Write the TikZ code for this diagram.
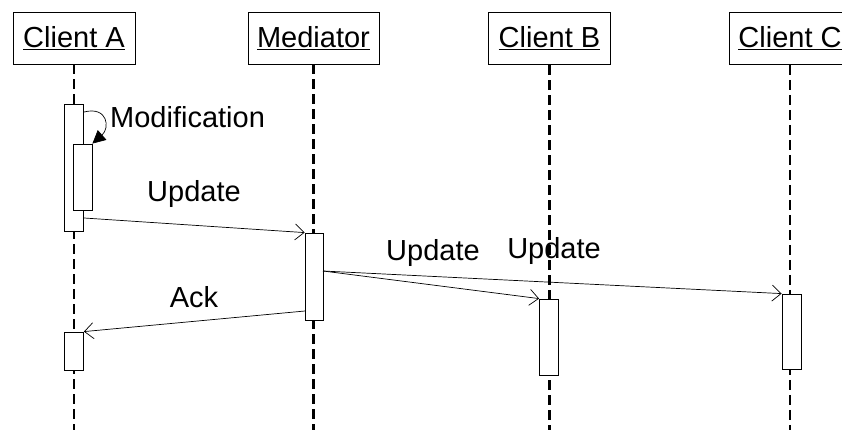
\documentclass[tikz,border=0pt]{standalone}
\usepackage{fontspec}
\setmainfont{Liberation Sans}
\usetikzlibrary{arrows.meta}

\begin{document}
\begin{tikzpicture}[x=1pt,y=1pt]
    \tikzstyle{every node}+=[inner sep=0pt, font=\fontsize{29}{34}\selectfont]
    \tikzstyle{object}=[draw=black, line width=0.8pt, minimum width=122pt, minimum height=52pt]
    \tikzstyle{lifeline}=[black, line width=2.2pt, dash pattern=on 10pt off 5pt]
    \tikzstyle{activation}=[draw=black, fill=white, line width=0.8pt, minimum width=19pt]
    \tikzstyle{message}=[black, line width=0.7pt, -{Straight Barb[length=9pt,width=16pt]}]
    \useasboundingbox (0,0) rectangle (842,-430);
    \clip (0,0) rectangle (842,-430);
    % objects
    \node [object] (clientA) at (74,-38) {\underline{Client A}};
    \node [object, minimum width=131pt] (mediator) at (313.5,-38) {\underline{Mediator}};
    \node [object, line width=1.6pt] (clientB) at (549.5,-38.5) {\underline{Client B}};
    \node [object] (clientC) at (790,-38.5) {\underline{Client C}};
    % lifelines
    \coordinate (endA) at (74,-430);
    \coordinate (endM) at (313.5,-430);
    \coordinate (endB) at (549.5,-430);
    \coordinate (endC) at (790,-430);
    \draw [lifeline] (clientA) -- (endA);
    \draw [lifeline] (mediator) -- (endM);
    \draw [lifeline, line width=3pt] (clientB) -- (endB);
    \draw [lifeline] (clientC) -- (endC);
    % activations
    \node [activation, minimum height=127pt] (actA) at (74,-167.5) {};
    \node [activation, minimum height=66pt] (actAmod) at (82.5,-177) {};
    \node [activation, minimum height=38pt] (actAack) at (74,-351) {};
    \node [activation, minimum width=18pt, minimum height=87pt] (actM) at (314,-276.5) {};
    \node [activation, minimum height=76pt] (actB) at (549,-337) {};
    \node [activation, minimum height=75pt] (actC) at (791.5,-331.5) {};
    % messages
    \coordinate (modStart) at (84,-112);
    \draw [black, line width=0.7pt, -{Triangle[length=13pt,width=13pt]}] (modStart) .. controls (108,-106) and (110,-128) .. (actAmod.north east);
    \draw (110,-117) node [anchor=west] {Modification};
    \coordinate (updStart) at (84,-218);
    \draw [message] (updStart) -- (actM.north west);
    \draw (194,-194) node {Update};
    \coordinate (fanStart) at (323,-271);
    \draw [message] (fanStart) -- (actB.north west);
    \draw (433,-253) node {Update};
    \draw [message] (fanStart) -- (actC.north west);
    \draw (554,-251) node {Update};
    \coordinate (ackStart) at (305,-311);
    \draw [message] (ackStart) -- (actAack.north east);
    \draw (194,-297) node {Ack};
\end{tikzpicture}
\end{document}
